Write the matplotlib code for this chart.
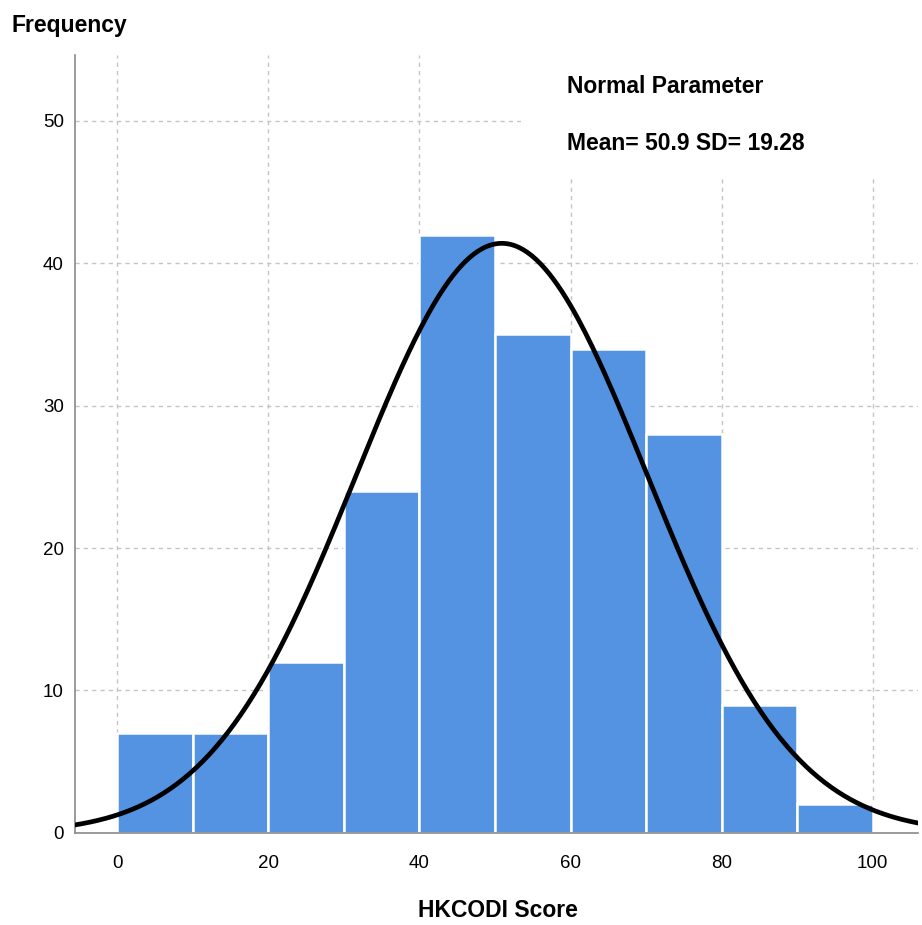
import numpy as np
import matplotlib.pyplot as plt

# histogram of HKCODI scores, bins of width 10
bin_edges = [0, 10, 20, 30, 40, 50, 60, 70, 80, 90, 100]
counts = [7, 7, 12, 24, 42, 35, 34, 28, 9, 2]
mean = 50.9
sd = 19.28
x_ticks = [0, 20, 40, 60, 80, 100]
y_ticks = [0, 10, 20, 30, 40, 50]

plt.rcParams['font.family'] = ['Liberation Sans', 'DejaVu Sans']

fig = plt.figure(figsize=(9.22, 9.25), dpi=100)
ax = fig.add_axes([0.0813, 0.0995, 0.9144, 0.841])

# bars
widths = np.diff(bin_edges)
ax.bar(bin_edges[:-1], counts, width=widths, align='edge',
       color='#5493e2', edgecolor='white', linewidth=1.8, zorder=2)

# fitted normal curve, scaled to counts
n = sum(counts)
xs = np.linspace(-6, 107, 400)
ys = n * 10 / (sd * np.sqrt(2 * np.pi)) * np.exp(-0.5 * ((xs - mean) / sd) ** 2)
ax.plot(xs, ys, color='black', linewidth=3.4, zorder=4, solid_capstyle='round')

ax.set_xlim(-5.6, 106)
ax.set_ylim(0, 54.6)
ax.set_xticks(x_ticks)
ax.set_yticks(y_ticks)
ax.tick_params(length=0, labelsize=13.5)
ax.tick_params(axis='x', pad=16)
ax.tick_params(axis='y', pad=8)

ax.grid(True, color='#c4c4c4', linestyle=(0, (3, 3)), linewidth=1, zorder=0)
ax.set_axisbelow(True)

for s in ['top', 'right']:
    ax.spines[s].set_visible(False)
for s in ['left', 'bottom']:
    ax.spines[s].set_color('#8a8a8a')
    ax.spines[s].set_linewidth(1.2)

# white block behind the parameter text hides the grid there
ax.add_patch(plt.Rectangle((53.5, 45.9), 60, 12, facecolor='white',
                           edgecolor='none', zorder=1, clip_on=True))
ax.text(59.5, 52.4, 'Normal Parameter', fontsize=16.5, fontweight='bold',
        va='center', ha='left', zorder=5)
ax.text(59.5, 48.4, 'Mean= 50.9 SD= 19.28', fontsize=16.5, fontweight='bold',
        va='center', ha='left', zorder=5)

fig.text(0.013, 0.972, 'Frequency', fontsize=16.5, fontweight='bold',
         va='center', ha='left')
fig.text(0.540, 0.016, 'HKCODI Score', fontsize=16.5, fontweight='bold',
         va='center', ha='center')

fig.savefig('out.png', dpi=100, facecolor='white')
